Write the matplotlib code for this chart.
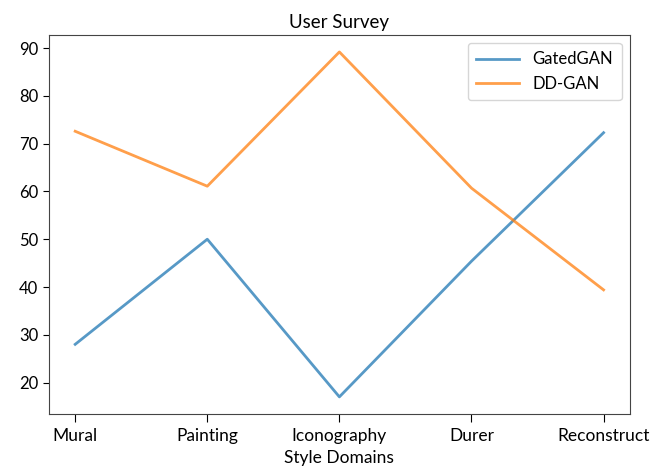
import matplotlib
matplotlib.use("Agg")
import matplotlib.pyplot as plt

plt.rcParams['font.family'] = ['Lato', 'DejaVu Sans']

domains = ['Mural', 'Painting', 'Iconography', 'Durer', 'Reconstruct']
gatedgan = [28.0, 50.0, 17.0, 45.4, 72.3]
ddgan = [72.6, 61.1, 89.2, 60.7, 39.4]

fig = plt.figure(figsize=(6.59, 4.69), dpi=100)
ax = fig.add_axes([0.074, 0.117, 0.882, 0.809])

ax.plot(domains, gatedgan, label='GatedGAN', color='#1f77b4', alpha=0.75, linewidth=2)
ax.plot(domains, ddgan, label='DD-GAN', color='#ff7f0e', alpha=0.75, linewidth=2)

ax.set_title('User Survey', fontsize=13.5, pad=5)
ax.set_xlabel('Style Domains', fontsize=12.5, labelpad=4)
ax.tick_params(axis='x', labelsize=12.5, length=6, pad=4)
ax.tick_params(axis='y', labelsize=12, length=4)
for s in ax.spines.values():
    s.set_color('#444444')
ax.legend(loc='upper right', fontsize=12, handlelength=2.6, borderpad=0.5)

fig.savefig('out.png', dpi=100)
